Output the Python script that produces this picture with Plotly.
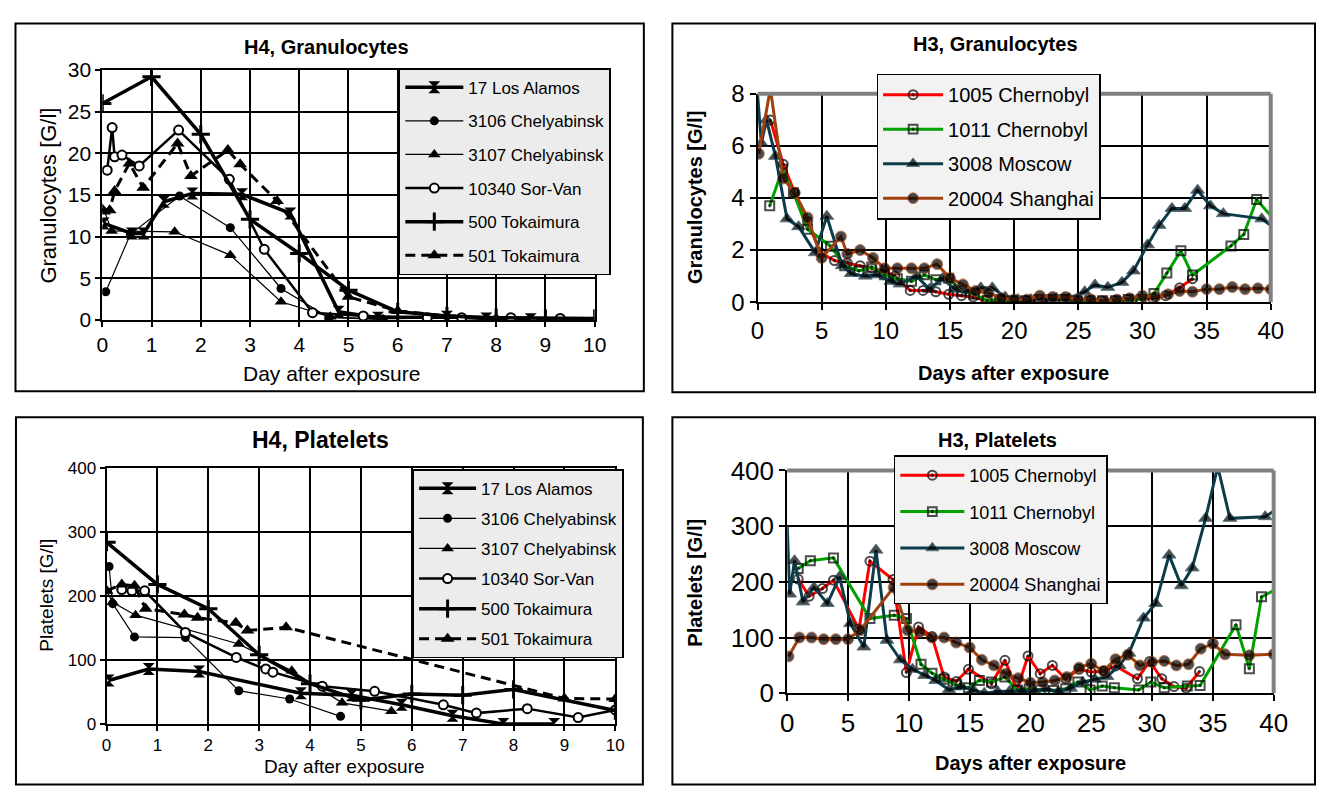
import plotly.graph_objects as go

# ================= DATA =================
# --- H4, Granulocytes (G/l) vs day ---
h4g_17_x = [0.03, 0.6, 0.84, 1.25, 1.83, 2.84, 3.82, 4.8, 5.6, 7.0, 7.8, 8.7]
h4g_17_y = [11.6, 10.4, 10.4, 14.2, 15.2, 15.1, 12.8, 1.0, 0.3, 0.4, 0.2, 0.1]
h4g_3106_x = [0.07, 0.57, 1.57, 2.6, 3.63, 4.6, 5.7]
h4g_3106_y = [3.4, 10.3, 14.9, 11.1, 3.8, 0.3, 0.1]
h4g_3107_x = [0.05, 0.19, 1.47, 2.6, 3.63, 4.63, 5.7]
h4g_3107_y = [13.0, 10.7, 10.6, 7.8, 2.2, 0.4, 0.1]
h4g_10340_x = [0.1, 0.2, 0.25, 0.4, 0.75, 1.55, 2.58, 3.29, 4.27, 5.3, 6.6, 7.3, 8.3, 9.3]
h4g_10340_y = [18.0, 23.1, 19.6, 19.8, 18.5, 22.8, 16.9, 8.5, 0.9, 0.5, 0.3, 0.3, 0.3, 0.2]
h4g_500_x = [0, 1, 2, 3, 4, 5, 6, 7, 8, 9, 10]
h4g_500_y = [26.0, 29.2, 22.3, 12.1, 8.0, 3.6, 1.0, 0.5, 0.3, 0.2, 0.2]
h4g_501_x = [0, 0.15, 0.25, 0.55, 0.83, 1.53, 1.8, 2.55, 2.8, 3.55, 5.0, 6.0, 7.0, 8.0]
h4g_501_y = [13.3, 13.2, 15.5, 18.8, 15.9, 21.2, 17.3, 20.4, 18.7, 14.3, 2.8, 1.1, 0.5, 0.2]

# --- H4, Platelets (G/l) vs day ---
h4p_17_x = [0.04, 0.83, 1.82, 3.82, 4.82, 5.8, 6.8, 7.8, 8.8]
h4p_17_y = [68, 86, 82, 48, 45, 30, 13, 0, 0]
h4p_3106_x = [0.05, 0.12, 0.55, 1.55, 2.6, 3.6, 4.6]
h4p_3106_y = [246, 188, 136, 135, 52, 39, 12]
h4p_3107_x = [0, 0.12, 0.57, 2.6, 3.64, 4.63, 5.6]
h4p_3107_y = [208, 190, 170, 125, 83, 33, 20]
h4p_10340_x = [0.3, 0.5, 0.75, 1.55, 2.55, 3.13, 3.27, 4.24, 5.27, 6.62, 7.27, 8.27, 9.27, 10]
h4p_10340_y = [210, 208, 208, 143, 104, 86, 81, 59, 51, 30, 17, 24, 10, 22]
h4p_500_x = [0, 1, 2, 3, 4, 5, 6, 7, 8, 10]
h4p_500_y = [284, 218, 180, 108, 63, 37, 47, 45, 54, 21]
h4p_501_x = [0, 0.3, 0.55, 0.77, 1.53, 1.79, 2.54, 2.77, 3.53, 9.0, 10.0]
h4p_501_y = [208, 218, 216, 180, 171, 166, 158, 146, 151, 40, 39]

# --- H3, Granulocytes (G/l) vs day ---
h3g_1005_x = [1.0, 2.0, 2.9, 3.9, 4.9, 6.0, 7.0, 8.0, 8.9, 9.9, 10.7, 11.9, 12.9, 13.9, 14.9, 15.9, 16.8,
              17.8, 18.8, 19.8, 20.8, 21.8, 22.8, 23.8, 24.8, 25.8, 26.8, 27.8, 28.8, 29.8, 30.8, 31.8, 32.9, 33.9]
h3g_1005_y = [7.0, 5.3, 4.2, 3.1, 1.9, 1.6, 1.5, 1.4, 1.3, 1.17, 1.0, 0.45, 0.45, 0.4, 0.3, 0.25, 0.2,
              0.06, 0.05, 0.05, 0.05, 0.1, 0.1, 0.1, 0.05, 0.05, 0.05, 0.05, 0.1, 0.1, 0.15, 0.25, 0.55, 0.9]
h3g_1011_x = [0.95, 1.95, 2.8, 3.9, 5.7, 6.8, 7.9, 8.9, 9.9, 10.9, 12.0, 13.0, 13.9, 14.9, 15.9, 16.9, 17.9,
              18.9, 19.9, 20.9, 21.9, 22.9, 23.9, 24.9, 25.9, 26.9, 27.9, 28.9, 29.9, 30.9, 31.9, 33.0, 33.9,
              36.9, 37.9, 38.9, 40.4]
h3g_1011_y = [3.7, 5.1, 4.2, 2.8, 2.15, 1.4, 1.2, 1.35, 1.05, 0.9, 0.8, 1.05, 0.86, 0.92, 0.43, 0.3, 0.06,
              0.1, 0.05, 0.05, 0.1, 0.1, 0.1, 0.05, 0.05, 0.05, 0.05, 0.1, 0.1, 0.33, 1.12, 1.97, 1.04,
              2.16, 2.6, 3.94, 3.1]
h3g_3008_x = [0, 0.3, 0.7, 1.4, 2.3, 3.2, 4.5, 5.4, 6.6, 7.3, 8.4, 9.3, 10.4, 11.1, 12.4, 13.4, 14.4, 15.4,
              16.4, 17.4, 18.3, 19.3, 20.3, 21.3, 22.3, 23.3, 24.3, 25.5, 26.3, 27.3, 28.4, 29.3, 30.4, 31.3,
              32.3, 33.3, 34.3, 35.3, 36.3, 39.3, 40.4]
h3g_3008_y = [8.0, 6.1, 7.0, 5.6, 3.2, 2.9, 1.9, 3.3, 1.4, 1.1, 1.0, 1.05, 0.8, 0.7, 1.0, 0.5, 0.9, 0.5,
              0.45, 0.55, 0.55, 0.2, 0.1, 0.1, 0.1, 0.15, 0.15, 0.4, 0.66, 0.57, 0.76, 1.2, 2.2, 2.95,
              3.6, 3.6, 4.3, 3.7, 3.4, 3.2, 2.8]
h3g_20004_x = [0.1, 1.0, 2.0, 2.9, 3.9, 5.0, 6.5, 7.0, 8.0, 9.0, 9.9, 10.9, 12.0, 13.0, 14.0, 15.0, 16.0,
               17.0, 18.0, 19.0, 20.0, 21.0, 22.0, 23.0, 24.0, 25.0, 26.0, 27.0, 28.0, 29.0, 30.0, 31.0,
               32.0, 32.9, 33.9, 35.0, 36.0, 37.0, 38.0, 39.0, 40.0]
h3g_20004_y = [5.7, 8.2, 4.75, 4.2, 3.25, 1.7, 2.52, 1.85, 2.0, 1.7, 1.3, 1.3, 1.3, 1.3, 1.46, 0.92, 0.68,
               0.43, 0.35, 0.15, 0.1, 0.1, 0.25, 0.2, 0.2, 0.1, 0.1, 0.05, 0.1, 0.15, 0.25, 0.2,
               0.3, 0.43, 0.4, 0.5, 0.5, 0.58, 0.5, 0.53, 0.5]

# --- H3, Platelets (G/l) vs day ---
h3p_1005_x = [0.9, 1.8, 2.9, 3.8, 5.9, 6.8, 8.7, 9.8, 10.8, 11.9, 12.9, 13.9, 14.9, 16.8, 17.9, 18.9, 19.8,
              20.8, 21.8, 22.9, 24.0, 25.0, 26.1, 27.0, 28.8, 29.8, 30.8, 31.8, 32.8, 33.9]
h3p_1005_y = [205, 174, 188, 203, 115, 237, 204, 37, 119, 102, 29, 21, 43, 17, 59, 6, 67,
              35, 50, 26, 43, 38, 40, 49, 26, 57, 26, 12, 9, 39]
h3p_1011_x = [0.9, 1.9, 3.8, 6.8, 8.8, 9.8, 11.0, 11.9, 12.9, 13.9, 14.9, 15.8, 16.8, 17.9, 18.9, 19.9,
              20.8, 21.9, 22.9, 23.9, 24.9, 25.9, 26.9, 28.9, 29.9, 31.0, 32.9, 33.95, 36.9, 38.0, 39.0, 40.5]
h3p_1011_y = [224, 238, 243, 134, 140, 134, 52, 36, 25, 15, 10, 23, 20, 29, 6, 8,
              6, 5, 8, 20, 6, 13, 10, 6, 20, 10, 13, 14, 123, 44, 173, 190]
h3p_3008_x = [0, 0.2, 0.6, 1.3, 2.2, 3.3, 4.3, 5.2, 6.3, 7.3, 8.2, 9.3, 10.3, 11.3, 12.2, 13.3, 14.3, 15.3,
              16.2, 17.3, 18.3, 19.3, 20.3, 21.3, 22.3, 23.3, 24.3, 25.3, 26.3, 27.3, 28.1, 29.3, 30.3,
              31.4, 32.4, 33.3, 34.4, 35.4, 36.4, 39.3, 40.5]
h3p_3008_y = [300, 178, 238, 164, 190, 161, 209, 125, 83, 257, 95, 60, 43, 32, 23, 6, 12, 6,
              0, 3, 4, 4, 5, 8, 3, 9, 20, 25, 30, 50, 72, 135, 161,
              248, 193, 225, 314, 407, 314, 317, 334]
h3p_20004_x = [0.1, 1, 2, 3, 4, 5, 6, 8.75, 9.9, 10.9, 11.9, 12.9, 13.9, 15, 16, 17, 18, 19, 20, 21, 22,
               23, 24, 25, 26, 27, 28, 29, 30, 31, 32, 33, 34, 35, 36, 38, 40]
h3p_20004_y = [66, 100, 100, 97, 97, 97, 113, 190, 113, 110, 100, 100, 91, 82, 60, 50, 35, 27, 19, 20, 23,
               29, 46, 53, 40, 61, 69, 50, 56, 58, 50, 52, 80, 89, 70, 68, 70]

h4_names = ["17 Los Alamos", "3106 Chelyabinsk", "3107 Chelyabinsk", "10340 Sor-Van",
            "500 Tokaimura", "501 Tokaimura"]
h3_names = ["1005 Chernobyl", "1011 Chernobyl", "3008 Moscow", "20004 Shanghai"]

# ================= LAYOUT HELPERS =================
# The page body keeps its default 8 px margin, so the figure is 16 px smaller
# than the 1338x797 window and page coordinates are shifted by 8 px.
PAGE_W, PAGE_H, OFF = 1338, 797, 8
W, H = PAGE_W - 2 * OFF, PAGE_H - 2 * OFF
def PX(x): return (x - OFF) / W
def PY(y): return 1 - (y - OFF) / H

NARROW = "Liberation Sans Narrow, Arial Narrow, Liberation Sans, Arial"
ARIAL = "Liberation Sans, Arial"

fig = go.Figure()

h4_styles = [
    dict(line=dict(color="black", width=3.5), marker=dict(symbol="hourglass", size=12, color="black")),
    dict(line=dict(color="black", width=1.2), marker=dict(symbol="circle", size=9, color="black")),
    dict(line=dict(color="black", width=1.2), marker=dict(symbol="triangle-up", size=11, color="black")),
    dict(line=dict(color="black", width=2.5), marker=dict(symbol="circle", size=9, color="white",
                                                          line=dict(color="black", width=2))),
    dict(line=dict(color="black", width=3.5), marker=dict(symbol="cross-thin", size=13, color="black",
                                                          line=dict(color="black", width=3))),
    dict(line=dict(color="black", width=3, dash="10px,6px"),
         marker=dict(symbol="triangle-up", size=12, color="black")),
]

h4g = [(h4g_17_x, h4g_17_y), (h4g_3106_x, h4g_3106_y), (h4g_3107_x, h4g_3107_y),
       (h4g_10340_x, h4g_10340_y), (h4g_500_x, h4g_500_y), (h4g_501_x, h4g_501_y)]
h4p = [(h4p_17_x, h4p_17_y), (h4p_3106_x, h4p_3106_y), (h4p_3107_x, h4p_3107_y),
       (h4p_10340_x, h4p_10340_y), (h4p_500_x, h4p_500_y), (h4p_501_x, h4p_501_y)]

for i, (xs, ys) in enumerate(h4g):
    st = h4_styles[i]
    fig.add_trace(go.Scatter(x=xs, y=ys, name=h4_names[i], mode="lines+markers",
                             line=st["line"], marker=st["marker"], xaxis="x", yaxis="y",
                             legend="legend", legendgroup="a%d" % i))
for i, (xs, ys) in enumerate(h4p):
    st = h4_styles[i]
    fig.add_trace(go.Scatter(x=xs, y=ys, name=h4_names[i], mode="lines+markers",
                             line=st["line"], marker=st["marker"], xaxis="x3", yaxis="y3",
                             legend="legend3", legendgroup="c%d" % i))

h3_colors = ["#ff0000", "#00a000", "#0c3b4a", "#a0400f"]
h3_markers = [
    dict(symbol="circle-open-dot", size=9, color="black", line=dict(width=2)),
    dict(symbol="square-open-dot", size=9, color="black", line=dict(width=2)),
    dict(symbol="triangle-up", size=12, color="black"),
    dict(symbol="circle", size=11, color="black"),
]

def sizes(xs, ys, base, skip):
    return [0 if (x, y) in skip else base for x, y in zip(xs, ys)]

h3g = [(h3g_1005_x, h3g_1005_y), (h3g_1011_x, h3g_1011_y), (h3g_3008_x, h3g_3008_y), (h3g_20004_x, h3g_20004_y)]
h3p = [(h3p_1005_x, h3p_1005_y), (h3p_1011_x, h3p_1011_y), (h3p_3008_x, h3p_3008_y), (h3p_20004_x, h3p_20004_y)]
h3g_nomark = {(0, 8.0), (1.0, 8.2), (40.4, 2.8), (40.4, 3.1)}
h3p_nomark = {(0, 300), (35.4, 407), (40.5, 334), (40.5, 190)}

for i, (xs, ys) in enumerate(h3g):
    mk = dict(h3_markers[i])
    mk["size"] = sizes(xs, ys, h3_markers[i]["size"], h3g_nomark)
    fig.add_trace(go.Scatter(x=xs, y=ys, name=h3_names[i], mode="lines+markers",
                             line=dict(color=h3_colors[i], width=3), marker=mk,
                             xaxis="x2", yaxis="y2", legend="legend2", legendgroup="b%d" % i))
for i, (xs, ys) in enumerate(h3p):
    mk = dict(h3_markers[i])
    mk["size"] = sizes(xs, ys, h3_markers[i]["size"], h3p_nomark)
    fig.add_trace(go.Scatter(x=xs, y=ys, name=h3_names[i], mode="lines+markers",
                             line=dict(color=h3_colors[i], width=3), marker=mk,
                             xaxis="x4", yaxis="y4", legend="legend4", legendgroup="d%d" % i))

# ---------------- axes ----------------
def h4_axis(domain, rng, dtick, anchor, font):
    return dict(domain=domain, range=rng, dtick=dtick, anchor=anchor, showgrid=True, gridcolor="black",
                gridwidth=2, zeroline=False, showline=True, linecolor="black", linewidth=2, mirror=True,
                ticks="outside", ticklen=5, tickcolor="black", tickwidth=2, tickfont=font, fixedrange=True)

def h3_axis(domain, rng, dtick, anchor, font):
    return dict(domain=domain, range=rng, dtick=dtick, anchor=anchor, showgrid=True, gridcolor="black",
                gridwidth=2, zeroline=False, showline=True, linecolor="black", linewidth=2, mirror=False,
                ticks="outside", ticklen=6, tickcolor="black", tickwidth=2, tickfont=font, fixedrange=True)

f_h4g = dict(family=NARROW, size=21, color="black")
f_h4p = dict(family=NARROW, size=17, color="black")
f_h3g = dict(family=ARIAL, size=24, color="black")
f_h3p = dict(family=ARIAL, size=26, color="black")

fig.update_layout(
    xaxis=h4_axis([PX(96.7), PX(597)], [0, 10], 1, "y", f_h4g),
    yaxis=h4_axis([PY(317), PY(57)], [0, 30], 5, "x", f_h4g),
    xaxis3=h4_axis([PX(101), PX(618)], [0, 10], 1, "y3", f_h4p),
    yaxis3=h4_axis([PY(737), PY(470.7)], [0, 400], 100, "x3", f_h4p),
    xaxis2=h3_axis([PX(762.5), PX(1284)], [0, 40], 5, "y2", f_h3g),
    yaxis2=h3_axis([PY(298.3), PY(81.7)], [0, 8], 2, "x2", f_h3g),
    xaxis4=h3_axis([PX(792.7), PX(1287)], [0, 40], 5, "y4", f_h3p),
    yaxis4=h3_axis([PY(705), PY(473.3)], [0, 400], 100, "x4", f_h3p),
)

# ---------------- legends ----------------
def legend(x, y, font, gap, bg, itemwidth):
    return dict(x=PX(x), y=PY(y), xanchor="left", yanchor="top", xref="paper", yref="paper",
                bgcolor=bg, bordercolor="black", borderwidth=1.5, font=font,
                tracegroupgap=gap, itemwidth=itemwidth, traceorder="grouped")

fig.update_layout(
    legend=legend(398, 55, dict(family=NARROW, size=17, color="black"), 8.5, "#ececec", 58),
    legend3=legend(412, 472, dict(family=NARROW, size=17, color="black"), 5, "#ececec", 57),
    legend2=legend(883.5, 60.7, dict(family=ARIAL, size=20, color="black"), 5.5, "#f2f2f2", 60),
    legend4=legend(901, 457.7, dict(family=ARIAL, size=18, color="black"), 10, "#f2f2f2", 64),
)

# ---------------- frames & borders ----------------
shapes = []
for (x0, y0, x1, y1) in [(8.5, 8.5, 647, 391), (676, 8.5, 1329, 392), (9, 418, 646, 800), (676, 418, 1329, 800)]:
    shapes.append(dict(type="rect", xref="paper", yref="paper", x0=PX(x0), x1=PX(x1), y0=PY(y1), y1=PY(y0),
                       line=dict(color="black", width=2), layer="below"))
# grey plot-area border (top and right) of the H3 panels
for (xl, xr, yb, yt) in [(762.5, 1284, 298.3, 81.7), (792.7, 1287, 705, 473.3)]:
    shapes.append(dict(type="line", xref="paper", yref="paper", x0=PX(xl), x1=PX(xr), y0=PY(yt), y1=PY(yt),
                       line=dict(color="#808080", width=4), layer="above"))
    shapes.append(dict(type="line", xref="paper", yref="paper", x0=PX(xr), x1=PX(xr), y0=PY(yb), y1=PY(yt),
                       line=dict(color="#808080", width=4), layer="above"))

# ---------------- titles ----------------
def ann(text, x, y, size, bold=False, family=ARIAL, angle=0):
    t = "<b>%s</b>" % text if bold else text
    return dict(text=t, x=PX(x), y=PY(y), xref="paper", yref="paper", showarrow=False,
                xanchor="center", yanchor="middle", textangle=angle,
                font=dict(family=family, size=size, color="black"))

annotations = [
    ann("H4, Granulocytes", 325, 33, 20, True, NARROW),
    ann("Granulocytes [G/l]", 42, 187, 22, False, NARROW, -90),
    ann("Day after exposure", 330, 373, 21, False, NARROW),
    ann("H3, Granulocytes", 1004, 30, 20, True),
    ann("Granulocytes [G/l]", 699, 190, 20, True, ARIAL, -90),
    ann("Days after exposure", 1023, 372, 20, True),
    ann("H4, Platelets", 318, 442, 23, True, NARROW),
    ann("Platelets [G/l]", 40, 603, 19, False, NARROW, -90),
    ann("Day after exposure", 343, 781, 19, False, NARROW),
    ann("H3, Platelets", 1006, 442, 20, True),
    ann("Platelets [G/l]", 699, 590, 20, True, ARIAL, -90),
    ann("Days after exposure", 1040, 778, 20, True),
]

fig.update_layout(width=W, height=H, margin=dict(l=0, r=0, t=0, b=0), paper_bgcolor="white",
                  plot_bgcolor="white", shapes=shapes, annotations=annotations, showlegend=True)

fig.write_html("out.html", config={"displayModeBar": False})
